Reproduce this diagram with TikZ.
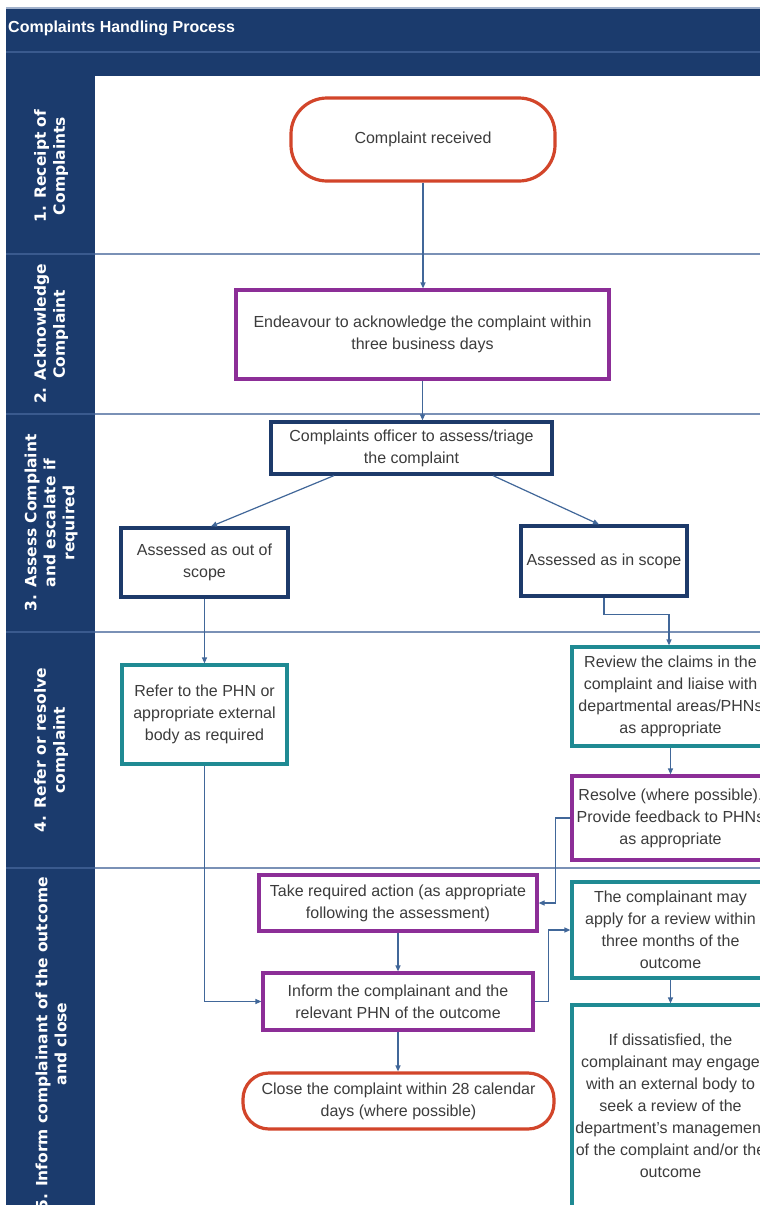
\documentclass[tikz,border=0pt]{standalone}
\usepackage{fontspec}
\setmainfont{Liberation Sans}
\newfontfamily\lanefont{DejaVu Sans}
\usetikzlibrary{arrows.meta}
\definecolor{navy}{HTML}{1B3B6D}
\definecolor{navyline}{HTML}{3A5A8E}
\definecolor{laneline}{HTML}{7A91B6}
\definecolor{cred}{HTML}{D2452A}
\definecolor{cpurple}{HTML}{8C2E97}
\definecolor{cteal}{HTML}{1F8A93}
\definecolor{cbox}{HTML}{1D3A6A}
\definecolor{conncol}{HTML}{416799}
\definecolor{txt}{HTML}{3C3C3C}
\tikzset{
  basebox/.style={draw, line width=3.2pt, fill=white, rectangle, inner sep=0pt,
    align=center, text=txt, font=\fontsize{16}{22}\selectfont},
  termred/.style={basebox, draw=cred},
  purplebox/.style={basebox, draw=cpurple},
  tealbox/.style={basebox, draw=cteal},
  navybox/.style={basebox, draw=cbox},
  conn/.style={draw=conncol, line width=1.2pt, -{Triangle[length=6pt,width=5pt]}},
  lanelabel/.style={rotate=90, align=center, text=white,
    font=\lanefont\bfseries\fontsize{15.5}{19}\selectfont},
}
\begin{document}
\begin{tikzpicture}[x=1pt,y=-1pt]
\useasboundingbox (0,0) rectangle (760,1205);
\clip (0,0) rectangle (760,1205);
% background
\fill[white] (0,0) rectangle (760,1205);
\fill[navy] (6,8) rectangle (760,76);
\fill[navy] (6,76) rectangle (95,1205);
\draw[color=laneline!70!white, line width=1.5pt] (6,8) -- (760,8);
\draw[color=navyline, line width=1.2pt] (6,52) -- (760,52);
% title
\node[anchor=west, text=white, font=\bfseries\fontsize{16}{19}\selectfont, inner sep=0pt] (title) at (8,28) {Complaints Handling Process};
% lane separators
\foreach \yy in {254,414,632,868}{
  \draw[color=navyline, line width=1.2pt] (6,\yy) -- (95,\yy);
  \draw[color=laneline, line width=1.6pt] (95,\yy) -- (760,\yy);
}
% lane labels
\node[lanelabel] (l1) at (51,166) {1. Receipt of\\Complaints};
\node[lanelabel] (l2) at (51,334) {2. Acknowledge\\Complaint};
\node[lanelabel] (l3) at (51,523) {3. Assess Complaint\\and escalate if\\required};
\node[lanelabel] (l4) at (51,750) {4. Refer or resolve\\complaint};
\node[lanelabel] (l5) at (51,1044) {5. Inform complainant of the outcome\\and close};
% nodes
\node[termred, minimum width=264pt, minimum height=83pt, rounded corners=36pt] (rec) at (423,139.5) {Complaint received};
\node[purplebox, minimum width=373pt, minimum height=89pt] (end) at (422.5,334.5) {Endeavour to acknowledge the complaint within\\three business days};
\node[navybox, minimum width=281pt, minimum height=52pt] (off) at (411.5,448) {Complaints officer to assess/triage\\the complaint};
\node[navybox, minimum width=167pt, minimum height=69pt] (out) at (204.5,562.5) {Assessed as out of\\scope};
\node[navybox, minimum width=166pt, minimum height=70pt] (ins) at (604,561) {Assessed as in scope};
\node[tealbox, minimum width=165pt, minimum height=99pt] (ref) at (204.5,714.5) {Refer to the PHN or\\appropriate external\\body as required};
\node[tealbox, minimum width=197pt, minimum height=99pt] (rev) at (670.5,696.5) {Review the claims in the\\complaint and liaise with\\departmental areas/PHNs\\as appropriate};
\node[purplebox, minimum width=197pt, minimum height=84pt] (res) at (670.5,818) {Resolve (where possible).\\Provide feedback to PHNs\\as appropriate};
\node[purplebox, minimum width=278pt, minimum height=56pt] (take) at (398,903) {Take required action (as appropriate\\following the assessment)};
\node[purplebox, minimum width=270pt, minimum height=57pt] (inf) at (398,1001.5) {Inform the complainant and the\\relevant PHN of the outcome};
\node[termred, minimum width=311pt, minimum height=56pt, rounded corners=26pt] (clo) at (398.5,1101) {Close the complaint within 28 calendar\\days (where possible)};
\node[tealbox, minimum width=197pt, minimum height=96pt] (may) at (670.5,930) {The complainant may\\apply for a review within\\three months of the\\outcome};
\node[tealbox, minimum width=197pt, minimum height=202pt] (dis) at (670.5,1106) {If dissatisfied, the\\complainant may engage\\with an external body to\\seek a review of the\\department's management\\of the complaint and/or the\\outcome};
% connectors
\draw[conn] (rec.south) -- (rec.south |- end.north);
\draw[conn] (end.south) -- (end.south |- off.north);
\draw[conn] ([xshift=-77.5pt]off.south) -- ([xshift=6.5pt]out.north);
\draw[conn] ([xshift=81.5pt]off.south) -- ([xshift=-5pt]ins.north);
\draw[conn] (ins.south) -- ++(0,17) -| ([xshift=-1.5pt]rev.north);
\draw[conn] (rev.south) -- (res.north);
\draw[conn] (res.west) -- ++(-15,0) |- (take.east);
\draw[conn] (out.south) -- (ref.north);
\draw[conn] (ref.south) |- (inf.west);
\draw[conn] (take.south) -- (inf.north);
\draw[conn] (inf.east) -- ++(14,0) |- (may.west);
\draw[conn] (may.south) -- (dis.north);
\draw[conn] (inf.south) -- (inf.south |- clo.north);
\end{tikzpicture}
\end{document}
